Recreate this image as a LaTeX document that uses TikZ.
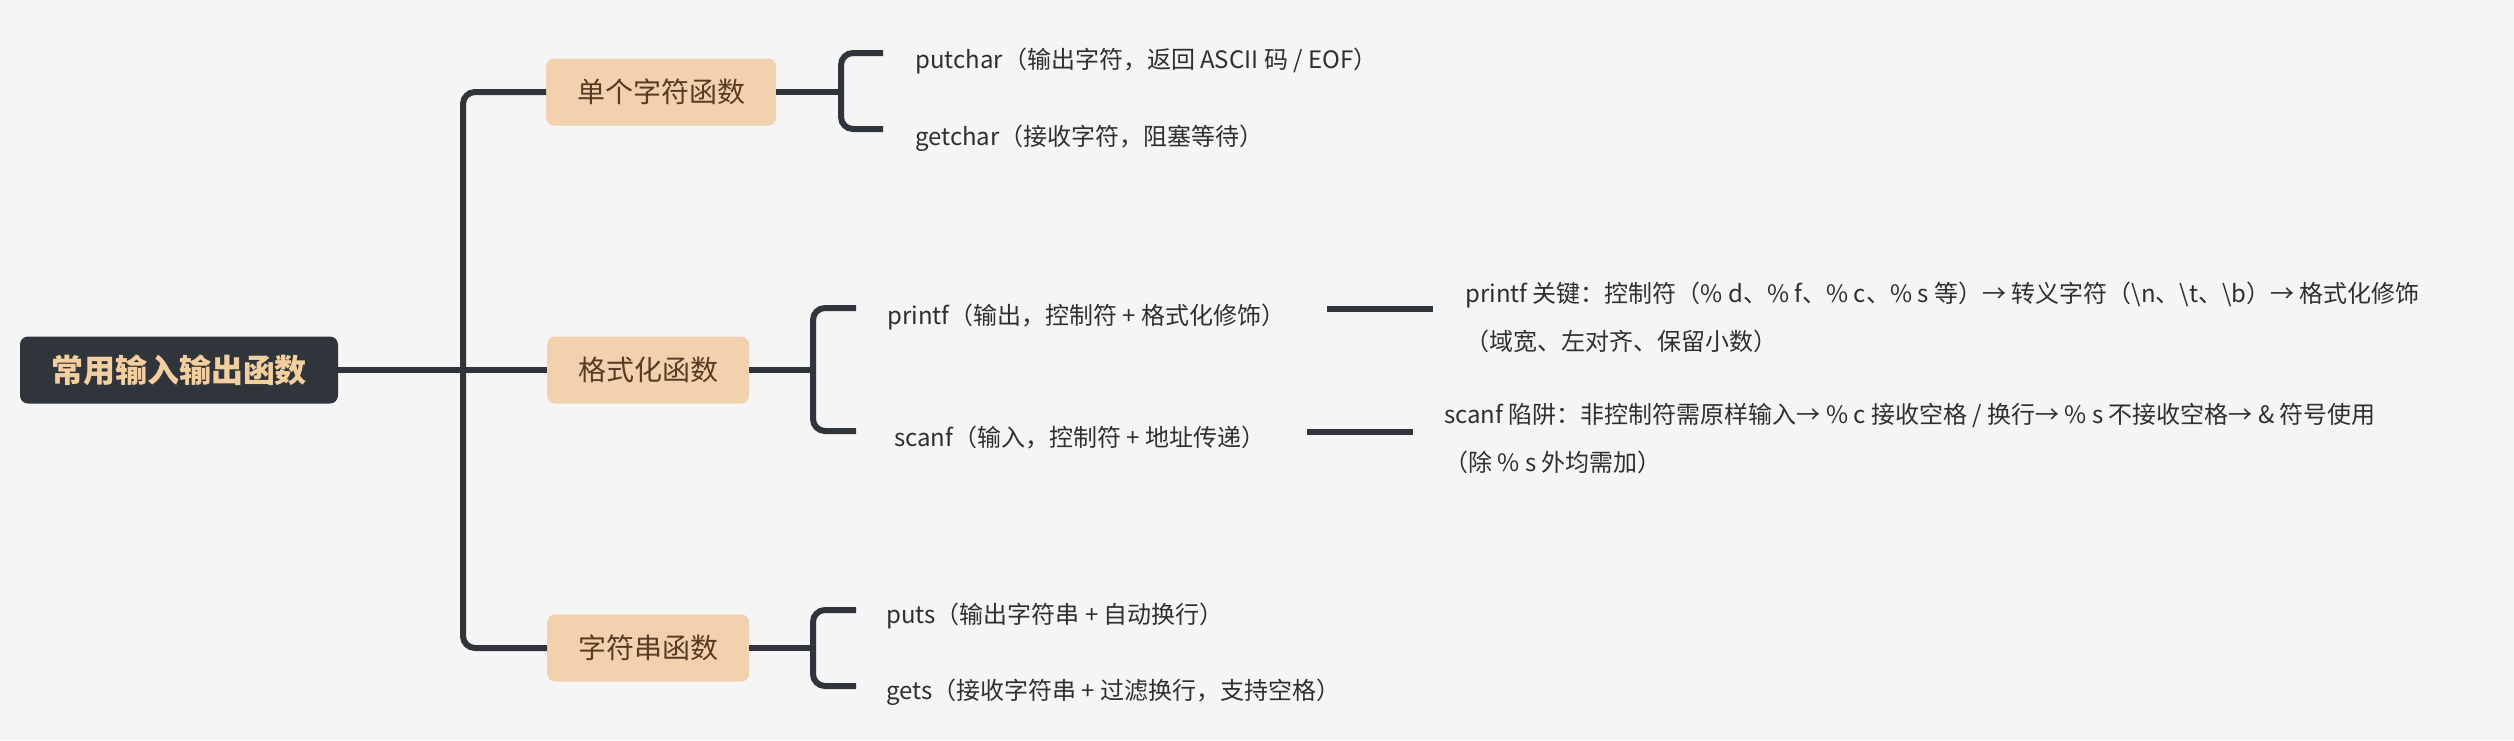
\documentclass[tikz,border=0pt]{standalone}
\usepackage{fontspec}
\setmainfont{Noto Sans CJK SC}
\definecolor{bgcol}{HTML}{F5F5F5}
\definecolor{darkc}{HTML}{30353C}
\definecolor{peach}{HTML}{F1D1AE}
\definecolor{brownt}{HTML}{5A3A22}
\definecolor{leaft}{HTML}{2F2F2F}
\definecolor{roott}{HTML}{F3CE9E}
\tikzset{
  conn/.style={draw=darkc, line width=6pt},
  rootbox/.style={fill=darkc, text=roott, rounded corners=8pt, minimum width=318pt, minimum height=67pt, inner sep=0pt, font=\fontsize{32}{38}\selectfont\bfseries},
  catbox/.style={fill=peach, text=brownt, rounded corners=8pt, minimum height=67pt, inner xsep=31pt, inner ysep=0pt, anchor=west, font=\fontsize{28}{34}\selectfont},
  leaf/.style={text=leaft, inner sep=0pt, anchor=west, font=\fontsize{24}{28}\selectfont},
  detail/.style={text=leaft, inner sep=0pt, anchor=west, align=left, font=\fontsize{24}{48}\selectfont}
}
\begin{document}
\begin{tikzpicture}[x=1pt,y=-1pt]
\fill[bgcol] (0,0) rectangle (2514,740);
\useasboundingbox (0,0) rectangle (2514,740);

% nodes
\node[rootbox] (root) at (179,370) {常用输入输出函数};
\node[catbox] (c1) at (546,92) {单个字符函数};
\node[catbox] (c2) at (547,370) {格式化函数};
\node[catbox] (c3) at (547,648) {字符串函数};

\node[leaf] (putchar) at (915,61) {putchar（输出字符，返回 ASCII 码 / EOF）};
\node[leaf] (getchar) at (915,138) {getchar（接收字符，阻塞等待）};
\node[leaf] (printf) at (887,317) {printf（输出，控制符 + 格式化修饰）};
\node[leaf] (scanf) at (894,438) {scanf（输入，控制符 + 地址传递）};
\node[leaf] (puts) at (886,616) {puts（输出字符串 + 自动换行）};
\node[leaf] (gets) at (886,692) {gets（接收字符串 + 过滤换行，支持空格）};

\node[detail] (pfk) at (1465,317.5) {printf 关键：控制符（\% d、\% f、\% c、\% s 等）→ 转义字符（\textbackslash n、\textbackslash t、\textbackslash b）→ 格式化修饰\\（域宽、左对齐、保留小数）};
\node[detail] (sck) at (1444,438.5) {scanf 陷阱：非控制符需原样输入→ \% c 接收空格 / 换行→ \% s 不接收空格→ \& 符号使用\\（除 \% s 外均需加）};

% trunk
\coordinate (t1) at (463,92);
\coordinate (t3) at (463,648);
\draw[conn] (root.east) -- (c2.west);
\draw[conn, rounded corners=12pt] (c1.west) -- (t1) -- (t3) -- (c3.west);

% bracket 1
\coordinate (k1) at (841,92);
\coordinate (k1a) at (841,53);
\coordinate (k1b) at (841,129);
\coordinate (e1a) at (883,53);
\coordinate (e1b) at (883,129);
\draw[conn] (c1.east) -- (k1);
\draw[conn, rounded corners=12pt] (e1a) -- (k1a) -- (k1b) -- (e1b);

% bracket 2
\coordinate (k2) at (813,370);
\coordinate (k2a) at (813,308);
\coordinate (k2b) at (813,431);
\coordinate (e2a) at (856,308);
\coordinate (e2b) at (856,431);
\draw[conn] (c2.east) -- (k2);
\draw[conn, rounded corners=12pt] (e2a) -- (k2a) -- (k2b) -- (e2b);

% bracket 3
\coordinate (k3) at (813,648);
\coordinate (k3a) at (813,610);
\coordinate (k3b) at (813,686);
\coordinate (e3a) at (856,610);
\coordinate (e3b) at (856,686);
\draw[conn] (c3.east) -- (k3);
\draw[conn, rounded corners=12pt] (e3a) -- (k3a) -- (k3b) -- (e3b);

% detail connectors
\coordinate (p1) at (1327,309);
\coordinate (p2) at (1433,309);
\draw[conn] (p1) -- (p2);
\coordinate (s1) at (1307,432);
\coordinate (s2) at (1413,432);
\draw[conn] (s1) -- (s2);
\end{tikzpicture}
\end{document}
